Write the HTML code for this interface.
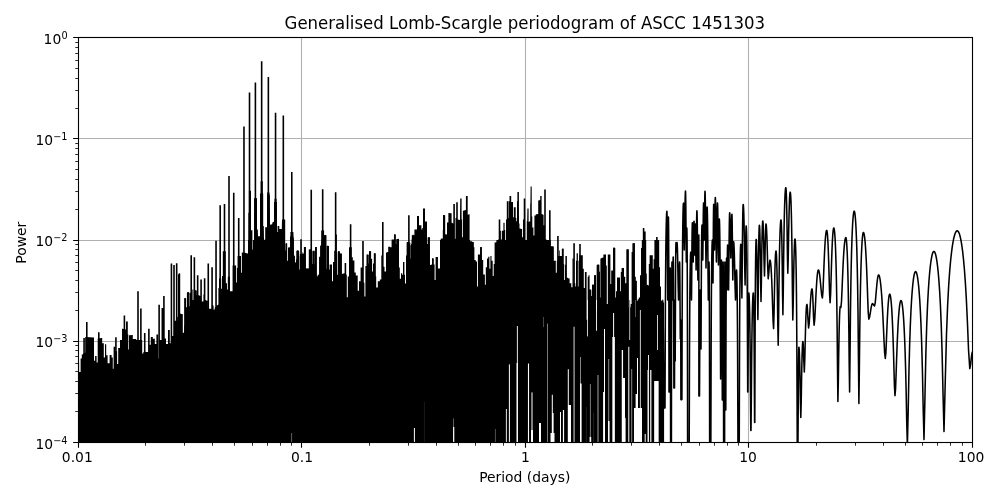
<!DOCTYPE html>
<html lang="en"><head><meta charset="utf-8"><title>Generalised Lomb-Scargle periodogram of ASCC 1451303</title>
<style>html,body{margin:0;padding:0;background:#fff;overflow:hidden}svg{display:block}</style></head>
<body>
<svg width="1000" height="500" viewBox="0 0 1000 500" style="display:block">
<rect width="1000" height="500" fill="#fff"/>
<defs><clipPath id="ax"><rect x="78.3" y="37.8" width="894.3" height="404.7"/></clipPath></defs>
<path d="M301.5 37.33V441.72M525.5 37.33V441.72M748.5 37.33V441.72M77.77 138.5H971.81M77.77 240.5H971.81M77.77 341.5H971.81" stroke="#b0b0b0" stroke-width="1.111" fill="none"/>
<g clip-path="url(#ax)">
<path d="M78.3,362.4 79.1,362.4 79.1,372.0 79.9,372.0 80.6,372.0 80.6,358.4 81.2,358.4 81.8,358.4 81.8,354.4 82.5,354.4 83.6,353.6 84.7,352.8 85.2,352.8 85.2,337.1 85.7,337.1 93.7,337.6 94.0,337.6 94.0,360.8 94.3,360.8 95.1,360.8 95.1,356.0 95.9,356.0 96.6,356.0 96.6,362.4 97.2,362.4 97.7,362.4 97.7,338.4 98.2,338.4 101.2,337.9 102.2,337.9 102.2,343.2 103.3,343.2 103.8,343.2 103.8,357.6 104.4,357.6 105.0,357.6 105.0,344.3 105.5,344.3 106.2,344.3 106.2,355.2 106.8,355.2 107.6,355.2 107.6,363.2 108.4,363.2 109.6,363.2 109.6,354.9 110.8,354.9 111.6,354.9 111.6,357.6 112.4,357.6 112.8,357.6 112.8,368.8 113.2,368.8 113.6,368.8 113.6,346.7 114.0,346.7 115.4,346.7 115.4,351.2 116.7,351.2 117.1,351.2 117.1,364.0 117.5,364.0 118.2,364.0 118.2,348.0 118.8,348.0 120.0,348.0 120.0,340.0 121.2,340.0 122.0,340.0 122.0,328.8 122.8,328.8 125.7,329.6 126.0,329.6 126.0,321.6 126.3,321.6 127.6,321.6 127.8,321.6 127.8,334.4 128.1,334.4 128.3,334.4 128.3,349.6 128.6,349.6 129.0,349.6 129.0,335.2 129.5,335.2 132.4,334.9 132.8,334.9 132.8,338.9 133.2,338.9 136.2,338.9 136.2,340.0 139.1,340.0 141.7,340.0 142.2,340.0 142.2,353.6 142.8,353.6 143.4,353.6 143.4,352.0 143.9,352.0 147.6,352.0 148.8,352.0 148.8,344.8 150.0,344.8 150.8,344.8 150.8,337.1 151.6,337.1 152.8,337.1 152.8,338.7 154.0,338.7 154.8,338.7 154.8,344.0 155.6,344.0 156.4,344.0 156.4,334.4 157.2,334.4 158.0,334.4 158.2,334.4 158.2,358.4 158.5,358.4 159.0,358.4 159.0,340.0 159.6,340.0 162.4,340.0 162.4,338.4 165.2,338.4 166.0,338.4 166.0,344.0 166.8,344.0 168.0,344.0 168.0,329.9 169.2,329.9 169.8,329.9 169.8,343.2 170.3,343.2 171.4,343.2 171.4,336.0 172.4,336.0 174.0,336.0 174.0,320.8 175.6,320.8 177.2,320.8 177.2,316.8 178.8,316.8 179.6,316.8 179.6,336.8 180.4,336.8 181.0,336.8 181.0,314.1 181.7,314.1 182.6,314.1 182.6,332.8 183.6,332.8 184.2,332.8 184.2,325.6 184.9,325.6 186.5,326.4 187.8,326.4 187.8,306.4 189.2,306.4 190.4,306.4 190.4,300.0 191.6,300.0 191.6,443 78.3,443Z" fill="#000"/>
<path d="M170.0,443.0 177.7,443.0 178.0,443.0 178.0,274.4 178.3,274.4 179.3,273.6 179.8,273.6 179.8,313.6 180.2,313.6 182.2,314.4 182.5,314.4 182.5,443.0 182.8,443.0 184.1,443.0 184.4,443.0 184.4,298.4 184.7,298.4 185.7,298.4 186.1,298.4 186.1,307.2 186.5,307.2 186.9,307.2 186.9,292.8 187.3,292.8 188.4,292.0 188.6,292.0 188.6,306.4 188.9,306.4 189.4,306.4 189.4,292.8 190.0,292.8 191.0,292.8 191.0,289.6 191.9,289.6 192.6,289.6 192.6,300.0 193.2,300.0 193.7,300.0 193.7,289.6 194.2,289.6 196.4,290.4 196.8,290.4 196.8,295.2 197.2,295.2 199.1,295.2 200.1,296.0 201.0,296.0 201.0,301.6 202.0,301.6 203.1,301.6 203.5,301.6 203.5,294.4 203.9,294.4 204.8,294.4 204.8,300.0 205.7,300.0 206.8,300.8 207.9,300.8 207.9,308.8 209.0,308.8 210.8,308.8 211.8,308.8 211.8,305.6 212.9,305.6 213.6,305.6 213.6,309.6 214.3,309.6 214.8,309.6 214.8,307.2 215.3,307.2 216.2,307.2 216.2,305.6 217.0,305.6 218.0,304.8 218.4,304.8 218.4,288.0 218.8,288.0 219.0,288.0 219.0,278.4 219.3,278.4 220.9,278.4 221.2,278.4 221.2,288.8 221.5,288.8 222.0,288.8 222.0,276.0 222.5,276.0 222.8,276.0 222.8,251.2 223.1,251.2 225.2,251.2 225.8,251.2 225.8,283.2 226.3,283.2 227.0,283.2 227.0,289.6 227.6,289.6 227.8,289.6 227.8,276.8 228.1,276.8 229.5,276.8 230.0,276.8 230.0,291.2 230.5,291.2 232.4,291.2 232.6,291.2 232.6,265.6 232.9,265.6 235.6,265.6 236.1,265.6 236.1,282.4 236.6,282.4 236.9,282.4 236.9,268.0 237.2,268.0 237.6,268.0 237.6,256.0 238.0,256.0 240.7,256.0 241.0,256.0 241.0,272.8 241.4,272.8 241.8,272.8 241.8,252.5 242.3,252.5 245.2,252.8 247.6,253.6 248.0,253.6 248.0,240.0 248.4,240.0 251.6,240.0 252.1,240.0 252.1,249.6 252.6,249.6 253.0,249.6 253.0,240.0 253.5,240.0 259.4,240.0 259.4,242.4 265.2,242.4 271.6,242.4 272.0,242.4 272.0,249.6 272.4,249.6 272.8,249.6 272.8,242.4 273.2,242.4 278.8,242.4 279.0,242.4 279.0,259.2 279.3,259.2 279.8,259.2 279.8,240.0 280.4,240.0 284.4,240.0 284.8,240.0 284.8,250.4 285.2,250.4 285.8,250.4 285.8,243.2 286.3,243.2 287.0,243.2 287.0,260.8 287.6,260.8 288.0,260.8 288.0,248.0 288.4,248.0 290.0,247.2 290.6,247.2 290.6,240.0 291.3,240.0 293.2,240.0 293.7,240.0 293.7,256.0 294.2,256.0 294.9,256.0 294.9,262.4 295.6,262.4 296.0,262.4 296.0,259.2 296.4,259.2 297.0,259.2 297.0,250.4 297.7,250.4 298.2,250.4 298.2,256.0 298.8,256.0 299.2,256.0 299.2,269.6 299.6,269.6 300.0,269.6 300.0,254.4 300.4,254.4 302.0,254.4 303.6,253.6 304.2,253.6 304.2,247.2 304.9,247.2 305.4,247.2 305.4,268.8 306.0,268.8 308.4,268.8 308.8,268.8 308.8,249.6 309.2,249.6 310.5,249.6 311.3,249.6 311.3,264.0 312.1,264.0 312.6,264.0 312.6,251.2 313.2,251.2 314.3,251.2 314.6,251.2 314.6,264.8 314.8,264.8 315.3,264.8 315.3,247.2 315.8,247.2 316.3,247.2 316.3,276.8 316.9,276.8 317.8,276.8 317.8,275.2 318.8,275.2 319.2,275.2 319.2,256.8 319.6,256.8 320.2,256.8 320.2,245.6 320.7,245.6 321.4,245.6 321.4,240.0 322.0,240.0 323.6,240.0 324.1,240.0 324.1,279.2 324.6,279.2 325.0,279.2 325.0,240.0 325.5,240.0 326.0,240.0 326.0,268.8 326.5,268.8 327.1,268.8 327.1,246.4 327.8,246.4 328.5,246.4 328.5,269.6 329.2,269.6 330.0,269.6 330.0,443 170.0,443Z" fill="#000"/>
<path d="M290.0,236.4 292.9,236.4 293.2,236.4 293.2,255.6 293.5,255.6 294.6,255.6 294.6,262.8 295.6,262.8 296.3,262.8 296.3,250.8 297.0,250.8 298.8,251.6 299.2,251.6 299.2,270.0 299.6,270.0 299.9,270.0 299.9,254.0 300.2,254.0 302.0,254.0 302.4,254.0 302.4,252.4 302.8,252.4 303.2,252.4 303.2,255.6 303.6,255.6 303.9,255.6 303.9,247.1 304.2,247.1 305.5,247.1 305.8,247.1 305.8,268.4 306.0,268.4 309.2,268.4 309.6,268.4 309.6,249.2 310.0,249.2 311.9,249.2 311.9,264.4 312.6,264.4 312.6,250.8 313.4,250.8 314.5,250.8 314.6,250.8 314.6,264.4 314.8,264.4 315.0,264.4 315.0,247.1 315.3,247.1 316.4,247.1 316.6,247.1 316.6,276.4 316.9,276.4 317.8,276.4 317.8,274.8 318.8,274.8 319.2,274.8 319.2,257.2 319.6,257.2 320.4,257.2 320.4,246.0 321.2,246.0 323.9,246.0 324.2,246.0 324.2,279.6 324.4,279.6 324.6,279.6 324.6,235.3 324.7,235.3 325.8,235.3 326.2,235.3 326.2,269.2 326.5,269.2 326.9,269.2 326.9,246.0 327.3,246.0 328.6,246.0 328.9,246.0 328.9,270.0 329.2,270.0 329.6,270.0 329.6,264.4 330.0,264.4 331.6,264.4 332.0,264.4 332.0,281.2 332.4,281.2 333.0,281.2 333.0,262.0 333.5,262.0 334.2,262.0 334.2,250.8 334.8,250.8 335.8,250.8 335.8,252.4 336.7,252.4 337.1,252.4 337.1,274.8 337.5,274.8 337.8,274.8 337.8,251.6 338.2,251.6 339.6,251.6 339.9,251.6 339.9,253.7 340.2,253.7 341.5,253.7 341.8,253.7 341.8,274.0 342.0,274.0 344.4,273.2 344.6,273.2 344.6,263.1 344.7,263.1 346.0,263.1 346.2,263.1 346.2,274.8 346.3,274.8 346.8,274.8 346.8,297.2 347.3,297.2 347.8,297.2 347.8,276.4 348.4,276.4 349.0,276.4 349.0,247.6 349.5,247.6 350.6,247.6 350.6,257.2 351.6,257.2 352.8,257.2 352.8,260.4 354.0,260.4 354.4,260.4 354.4,272.4 354.8,272.4 355.8,272.4 355.8,275.6 356.9,275.6 357.7,275.6 357.7,290.8 358.5,290.8 359.0,290.8 359.0,281.2 359.6,281.2 360.6,281.2 360.6,267.6 361.7,267.6 362.3,267.6 363.1,267.6 363.1,282.8 363.9,282.8 364.4,282.8 364.4,296.4 364.9,296.4 365.4,296.4 365.4,266.0 366.0,266.0 366.6,266.0 366.6,254.8 367.1,254.8 368.4,254.8 368.6,254.8 368.6,263.6 368.7,263.6 369.0,263.6 369.0,251.3 369.4,251.3 370.6,251.3 371.1,251.3 371.1,258.8 371.6,258.8 372.1,258.8 372.1,271.6 372.6,271.6 373.0,271.6 373.0,263.6 373.5,263.6 373.8,263.6 373.8,253.2 374.2,253.2 375.4,253.2 375.6,253.2 375.6,276.4 375.8,276.4 376.2,276.4 376.2,287.6 376.7,287.6 377.8,287.6 377.8,281.2 378.8,281.2 379.8,281.2 379.8,279.6 380.9,279.6 381.3,279.6 381.3,255.6 381.7,255.6 382.7,255.6 382.7,266.8 383.8,266.8 384.5,266.8 384.5,271.6 385.2,271.6 386.0,271.6 386.0,252.4 386.8,252.4 388.2,252.4 388.2,246.8 389.5,246.8 390.2,246.8 390.2,250.8 390.8,250.8 391.6,250.8 391.6,239.6 392.4,239.6 393.7,239.6 394.2,239.6 394.2,234.3 394.8,234.3 395.4,234.3 395.4,249.2 395.9,249.2 396.4,249.2 396.4,239.6 396.9,239.6 398.0,238.8 398.6,238.8 398.6,267.6 399.1,267.6 399.8,267.6 399.8,278.8 400.4,278.8 401.0,278.8 401.0,273.2 401.7,273.2 402.2,273.2 402.2,274.8 402.8,274.8 403.0,274.8 403.0,262.0 403.3,262.0 404.2,262.0 404.4,262.0 404.4,274.8 404.6,274.8 405.0,274.8 405.0,283.6 405.5,283.6 406.0,283.6 406.0,255.6 406.5,255.6 407.0,255.6 407.0,242.0 407.6,242.0 408.8,242.0 408.8,245.2 410.0,245.2 410.6,245.2 410.6,258.8 411.3,258.8 411.6,258.8 411.6,239.6 411.9,239.6 412.6,239.6 412.6,234.8 413.2,234.8 413.8,234.8 413.8,240.4 414.5,240.4 415.0,240.4 415.0,230.0 415.6,230.0 420.4,230.0 420.8,230.0 420.8,246.0 421.2,246.0 421.7,246.0 421.7,230.0 422.2,230.0 426.0,230.0 426.4,230.0 426.4,271.6 426.8,271.6 427.2,271.6 427.2,246.0 427.6,246.0 427.9,246.0 427.9,237.2 428.2,237.2 429.5,237.2 429.8,237.2 429.8,265.2 430.0,265.2 431.6,264.4 432.2,264.4 432.2,258.3 432.9,258.3 433.4,258.3 433.4,264.4 434.0,264.4 434.6,264.4 434.6,279.9 435.3,279.9 435.6,279.9 435.6,256.9 435.9,256.9 437.5,256.9 437.8,256.9 437.8,268.4 438.0,268.4 439.6,268.4 440.0,268.4 440.0,262.0 440.4,262.0 441.0,262.0 441.0,238.8 441.7,238.8 442.8,238.8 442.8,230.0 443.9,230.0 445.0,230.0 445.0,245.2 446.0,245.2 447.6,244.4 448.0,244.4 448.0,234.8 448.4,234.8 449.2,234.8 449.2,230.0 450.0,230.0 450.0,443 290.0,443Z" fill="#000"/>
<path d="M290.0,237.6 293.2,237.6 293.5,237.6 293.5,443.0 293.8,443.0 321.2,443.0 321.4,443.0 321.4,230.4 321.7,230.4 323.9,230.4 324.1,230.4 324.1,235.2 324.2,235.2 326.0,235.2 326.2,235.2 326.2,443.0 326.5,443.0 334.8,443.0 335.0,443.0 335.0,234.4 335.1,234.4 336.7,234.4 336.9,234.4 336.9,443.0 337.0,443.0 349.2,443.0 349.4,443.0 349.4,247.2 349.5,247.2 351.6,247.2 351.8,247.2 351.8,443.0 352.1,443.0 386.8,443.0 387.2,443.0 387.2,252.0 387.6,252.0 389.2,252.0 389.6,252.0 389.6,247.2 390.0,247.2 391.6,247.2 392.0,247.2 392.0,240.0 392.4,240.0 394.0,240.0 394.2,240.0 394.2,234.4 394.3,234.4 395.6,234.4 395.8,234.4 395.8,244.0 396.1,244.0 396.5,244.0 396.5,238.9 396.9,238.9 398.8,238.9 399.0,238.9 399.0,443.0 399.3,443.0 406.3,443.0 406.6,443.0 406.6,242.4 406.8,242.4 410.0,242.4 410.3,242.4 410.3,443.0 410.6,443.0 411.0,443.0 411.0,244.0 411.3,244.0 411.8,244.0 411.8,235.2 412.4,235.2 414.0,235.2 414.4,235.2 414.4,229.6 414.8,229.6 416.7,229.6 417.0,229.6 417.0,216.0 417.2,216.0 418.8,216.0 419.0,216.0 419.0,225.3 419.3,225.3 421.2,225.3 421.4,225.3 421.4,229.6 421.5,229.6 422.2,229.6 422.2,228.0 422.8,228.0 423.0,228.0 423.0,208.5 423.3,208.5 424.9,208.5 425.0,208.5 425.0,221.6 425.2,221.6 426.8,221.6 427.0,221.6 427.0,244.0 427.3,244.0 427.7,244.0 427.7,237.6 428.1,237.6 429.7,237.6 429.9,237.6 429.9,443.0 430.2,443.0 440.4,443.0 440.8,443.0 440.8,239.2 441.2,239.2 442.8,239.2 443.0,239.2 443.0,215.2 443.3,215.2 444.9,215.2 445.2,215.2 445.2,234.4 445.5,234.4 446.8,234.4 447.0,234.4 447.0,222.4 447.3,222.4 448.4,222.4 448.6,222.4 448.6,213.1 448.7,213.1 450.0,213.1 450.0,443 290.0,443Z" fill="#000"/>
<path d="M440.8,238.8 442.9,238.8 443.0,238.8 443.0,215.1 443.2,215.1 444.5,215.1 444.6,215.1 444.6,234.0 444.8,234.0 445.6,234.0 445.6,235.6 446.4,235.6 446.8,235.6 446.8,245.2 447.2,245.2 447.6,245.2 447.6,222.8 448.0,222.8 448.6,222.8 448.6,213.2 449.1,213.2 451.2,213.2 451.6,213.2 451.6,222.8 452.0,222.8 453.1,223.6 453.3,223.6 453.3,204.1 453.4,204.1 454.7,204.1 454.9,204.1 454.9,238.8 455.0,238.8 455.5,238.8 455.5,218.0 456.0,218.0 456.2,218.0 456.2,202.3 456.3,202.3 457.6,202.3 457.8,202.3 457.8,219.6 457.9,219.6 460.0,219.9 460.2,198.5 461.4,198.5 461.6,198.5 461.6,219.6 461.8,219.6 462.1,219.6 462.1,237.2 462.4,237.2 462.9,237.2 462.9,210.8 463.4,210.8 465.6,210.0 465.9,210.0 465.9,196.1 466.2,196.1 467.5,196.1 467.7,196.1 467.7,214.8 467.8,214.8 469.3,214.3 469.6,214.3 469.6,241.2 469.9,241.2 472.0,241.2 472.3,242.0 473.3,242.0 473.6,242.0 473.6,443.0 473.9,443.0 495.2,443.0 495.4,443.0 495.4,242.8 495.7,242.8 497.6,242.0 498.1,242.0 498.1,239.6 498.6,239.6 498.7,239.6 498.7,219.6 498.9,219.6 500.2,219.6 500.3,219.6 500.3,230.8 500.5,230.8 500.9,230.8 500.9,239.6 501.3,239.6 501.8,239.6 501.8,230.8 502.4,230.8 503.2,230.8 503.4,230.8 503.4,222.8 503.5,222.8 504.5,222.8 504.6,222.8 504.6,230.0 504.8,230.0 505.2,230.0 505.2,245.2 505.6,245.2 506.0,245.2 506.0,219.6 506.4,219.6 506.8,219.6 506.8,201.2 507.2,201.2 508.5,201.2 508.6,201.2 508.6,218.0 508.8,218.0 509.0,218.0 509.0,201.2 509.3,201.2 509.5,201.2 509.5,196.1 509.8,196.1 511.0,196.1 511.2,196.1 511.2,202.0 511.4,202.0 512.6,202.0 513.0,202.0 513.0,217.2 513.3,217.2 513.8,217.2 513.8,207.3 514.2,207.3 515.5,207.3 515.7,207.3 515.7,218.0 515.8,218.0 516.3,218.0 516.3,221.2 516.8,221.2 517.0,221.2 517.0,201.2 517.1,201.2 517.4,201.2 517.4,191.9 517.6,191.9 518.9,191.9 519.0,223.6 519.5,223.6 519.5,228.4 520.0,228.4 521.6,228.9 522.1,228.9 522.1,237.2 522.6,237.2 523.0,237.2 523.0,219.6 523.5,219.6 523.7,219.6 523.7,198.5 523.8,198.5 525.1,198.5 525.3,198.5 525.3,240.4 525.4,240.4 525.9,240.4 525.9,242.8 526.4,242.8 526.8,242.8 526.8,221.2 527.2,221.2 527.4,208.4 528.5,208.4 528.6,208.4 528.6,222.0 528.8,222.0 529.9,221.2 530.2,221.2 530.2,203.6 530.4,203.6 530.6,186.5 531.7,186.5 531.8,216.4 532.3,216.4 532.3,227.6 532.8,227.6 533.4,227.6 533.4,235.6 534.1,235.6 534.4,235.6 534.4,215.6 534.7,215.6 535.8,215.6 535.8,214.3 536.8,214.3 537.9,214.0 538.2,214.0 538.2,200.4 538.6,200.4 540.0,200.1 540.2,200.1 540.2,196.1 540.3,196.1 541.4,196.1 541.6,196.1 541.6,214.0 541.8,214.0 543.2,214.8 543.6,214.8 543.6,225.2 544.0,225.2 544.2,225.2 544.2,189.5 544.3,189.5 545.6,189.5 545.8,189.5 545.8,239.6 545.9,239.6 548.8,240.4 549.0,240.4 549.0,210.3 549.3,210.3 550.6,210.3 550.7,246.0 552.8,246.5 553.2,246.5 553.2,443.0 553.6,443.0 553.6,443 440.8,443Z" fill="#000"/>
<path d="M440.0,240.0 469.9,240.0 470.2,240.0 470.2,257.6 470.4,257.6 470.8,257.6 470.8,269.6 471.2,269.6 471.6,269.6 471.6,246.4 472.0,246.4 472.2,246.4 472.2,241.9 472.3,241.9 473.3,241.9 473.6,241.9 473.6,247.2 473.9,247.2 474.4,247.2 474.4,260.0 474.9,260.0 475.7,260.0 475.7,261.6 476.5,261.6 477.0,261.6 477.0,286.4 477.4,286.4 477.9,286.4 477.9,254.4 478.4,254.4 480.0,254.4 480.2,254.4 480.2,247.2 480.5,247.2 481.6,247.2 481.8,247.2 481.8,260.0 481.9,260.0 482.9,260.0 483.2,260.0 483.2,274.4 483.5,274.4 484.5,274.4 484.9,274.4 484.9,284.8 485.3,284.8 485.8,284.8 485.8,267.2 486.4,267.2 487.0,267.2 487.0,258.4 487.7,258.4 488.2,258.4 488.2,256.8 488.8,256.8 489.4,256.8 489.4,268.8 489.9,268.8 490.4,268.8 490.4,256.0 490.9,256.0 491.5,256.0 491.5,260.8 492.2,260.8 492.7,260.8 492.7,276.0 493.3,276.0 493.7,276.0 493.7,264.0 494.1,264.0 494.6,264.0 494.6,242.4 495.2,242.4 496.4,242.4 496.4,240.0 497.6,240.0 550.4,240.0 550.8,240.0 550.8,279.2 551.2,279.2 551.6,279.2 551.6,263.2 552.0,263.2 552.2,263.2 552.2,246.4 552.5,246.4 553.6,246.4 553.8,246.4 553.8,260.8 553.9,260.8 555.2,260.8 555.8,260.8 555.8,272.8 556.5,272.8 556.8,272.8 556.8,260.8 557.1,260.8 558.0,260.8 558.0,256.0 558.9,256.0 559.2,256.0 559.2,250.4 559.5,250.4 559.9,250.4 559.9,256.0 560.3,256.0 561.6,256.0 561.9,256.0 561.9,248.8 562.2,248.8 563.4,248.8 563.5,248.8 563.5,264.0 563.7,264.0 564.1,264.0 564.1,280.0 564.5,280.0 564.9,280.0 564.9,264.8 565.3,264.8 565.4,264.8 565.4,256.0 565.6,256.0 566.7,256.0 566.9,256.0 566.9,277.6 567.0,277.6 568.8,278.4 569.6,278.4 569.6,283.2 570.4,283.2 571.3,283.2 571.3,287.2 572.2,287.2 572.5,287.2 572.5,258.4 572.8,258.4 573.8,258.4 573.8,283.2 574.9,283.2 575.3,283.2 575.3,286.4 575.7,286.4 576.0,286.4 576.0,260.8 576.3,260.8 576.6,260.8 576.6,253.3 576.8,253.3 577.8,253.3 577.9,253.3 577.9,286.4 578.1,286.4 578.5,286.4 578.5,260.8 578.9,260.8 579.2,260.8 579.2,255.2 579.5,255.2 582.4,255.2 582.8,255.2 582.8,268.8 583.2,268.8 583.8,268.8 583.8,288.0 584.5,288.0 584.9,288.0 584.9,272.0 585.3,272.0 586.4,272.0 586.6,272.0 586.6,319.8 586.7,319.8 587.5,319.8 587.7,319.8 587.7,276.8 587.8,276.8 588.5,276.8 588.5,275.2 589.1,275.2 589.6,275.2 589.6,289.6 590.1,289.6 590.7,290.4 591.2,290.4 591.2,296.8 591.7,296.8 592.1,296.8 592.1,284.8 592.5,284.8 593.9,284.8 594.2,284.8 594.2,275.2 594.6,275.2 595.7,275.2 595.8,275.2 595.8,319.8 596.0,319.8 596.6,319.8 596.8,319.8 596.8,265.6 597.0,265.6 597.6,265.6 597.6,264.5 598.2,264.5 598.7,264.5 598.7,272.0 599.2,272.0 600.0,271.2 600.0,443 440.0,443Z" fill="#000"/>
<path d="M248.2,443.0 248.4,212.8 250.8,212.8 251.0,212.8 251.0,230.2 251.2,230.2 252.2,230.2 252.4,230.2 252.4,443.0 252.6,443.0 253.9,443.0 254.2,198.4 256.8,198.4 257.0,198.4 257.0,229.6 257.2,229.6 257.8,229.6 258.0,236.2 259.8,236.2 260.0,236.2 260.0,193.6 260.2,193.6 263.0,193.6 263.2,193.6 263.2,226.0 263.4,226.0 263.8,226.0 264.0,239.8 265.0,239.8 265.2,239.8 265.2,227.2 265.4,227.2 267.1,227.2 267.4,194.8 269.8,194.8 270.0,224.8 272.2,224.2 272.4,222.4 273.8,221.8 274.0,221.8 274.0,202.0 274.2,202.0 276.8,202.0 277.0,202.0 277.0,232.0 277.2,232.0 277.6,232.0 277.6,226.0 277.9,226.0 279.0,226.0 279.3,226.0 279.3,229.0 279.6,229.0 281.8,229.0 282.0,219.4 285.0,219.4 285.2,219.4 285.2,443.0 285.4,443.0 285.6,443.0 285.6,243.4 285.8,243.4 287.0,243.4 287.2,243.4 287.2,443.0 287.4,443.0 288.0,443.0 288.0,247.6 288.6,247.6 289.8,247.6 290.0,247.6 290.0,238.0 290.2,238.0 290.4,238.0 290.4,232.0 290.6,232.0 293.4,232.0 293.6,238.0 293.8,238.0 293.8,443.0 294.0,443.0 294.0,443 248.2,443Z" fill="#000"/>
<path d="M321.4,443.0 321.4,245.2 321.6,230.8 323.8,230.8 324.0,443.0 324.4,443.0 324.4,235.2 324.8,235.2 326.0,235.2 326.2,235.2 326.2,443.0 326.4,443.0 326.7,443.0 326.7,245.8 327.0,245.8 328.2,245.8 328.4,245.8 328.4,443.0 328.6,443.0 328.6,443 321.4,443Z" fill="#000"/>
<path d="M248.9,443.0 248.9,190.8 251.0,190.8 251.0,443.0 254.3,443.0 254.3,198.0 256.7,198.0 256.7,443.0 260.6,443.0 260.6,181.2 262.8,181.2 262.8,443.0 267.1,443.0 267.1,192.4 269.5,192.4 269.5,443.0 274.5,443.0 274.5,198.8 276.6,198.8 276.6,443.0 276.6,443 248.9,443Z" fill="#000"/>
<path d="M590.0,289.6 590.8,289.6 591.2,289.6 591.2,296.0 591.6,296.0 592.0,296.0 592.0,284.8 592.4,284.8 594.0,284.8 594.2,284.8 594.2,275.2 594.5,275.2 595.6,275.2 596.0,275.2 596.0,310.4 596.4,310.4 596.8,310.4 596.8,264.8 597.2,264.8 598.8,264.8 599.4,264.8 599.4,297.6 599.9,297.6 600.4,297.6 600.4,258.4 600.9,258.4 602.8,257.6 603.4,257.6 603.4,254.4 604.1,254.4 605.7,254.4 606.0,254.4 606.0,265.6 606.3,265.6 606.8,265.6 606.8,304.0 607.3,304.0 607.8,304.0 607.8,254.4 608.4,254.4 610.0,254.4 610.4,254.4 610.4,284.0 610.8,284.0 611.2,284.0 611.2,270.4 611.6,270.4 612.9,270.4 613.1,270.4 613.1,248.0 613.4,248.0 615.0,248.0 615.3,248.0 615.3,297.6 615.6,297.6 616.0,297.6 616.0,291.2 616.4,291.2 617.0,291.2 617.0,277.6 617.5,277.6 619.6,277.6 620.0,277.6 620.0,291.2 620.4,291.2 620.8,291.2 620.8,272.0 621.2,272.0 621.6,272.0 621.6,268.0 622.0,268.0 623.6,268.0 624.0,268.0 624.0,276.8 624.4,276.8 625.2,276.8 625.2,283.2 626.0,283.2 626.4,283.2 626.4,249.6 626.8,249.6 628.4,249.6 628.8,249.6 628.8,307.2 629.2,307.2 630.0,307.2 630.6,307.2 630.6,304.0 631.3,304.0 631.6,304.0 631.6,252.0 631.9,252.0 632.4,252.0 632.4,243.2 632.9,243.2 634.5,243.2 634.8,243.2 634.8,276.8 635.1,276.8 635.8,276.8 635.8,280.8 636.4,280.8 636.9,280.8 636.9,300.8 637.4,300.8 637.7,300.8 637.7,299.2 638.0,299.2 638.8,299.2 638.8,297.6 639.6,297.6 640.0,297.6 640.0,275.2 640.4,275.2 641.0,275.2 641.0,248.0 641.5,248.0 641.8,248.0 641.8,240.0 642.0,240.0 646.0,240.0 646.2,240.0 646.2,273.6 646.3,273.6 646.8,273.6 646.8,284.8 647.3,284.8 648.4,285.6 648.8,285.6 648.8,264.0 649.2,264.0 649.6,264.0 649.6,255.2 650.0,255.2 652.4,255.2 652.8,255.2 652.8,268.8 653.2,268.8 653.6,268.8 653.6,259.2 654.0,259.2 654.4,259.2 654.4,240.0 654.8,240.0 658.8,240.0 659.2,240.0 659.2,267.2 659.6,267.2 660.0,267.2 660.0,286.4 660.4,286.4 661.0,286.4 661.0,300.8 661.7,300.8 662.2,300.8 662.2,302.4 662.8,302.4 663.9,302.4 664.1,302.4 664.1,443.0 664.2,443.0 664.2,443 590.0,443Z" fill="#000"/>
<path d="M655.3,443.0 655.4,443.0 655.4,243.3 655.6,243.3 658.5,243.3 658.6,243.3 658.6,443.0 658.8,443.0 658.8,443 655.3,443Z" fill="#000"/>
<path d="M84.08 337.9V443.0M86.80 322.1V443.0M98.80 332.3V443.0M115.92 337.3V443.0M124.40 315.5V443.0M138.00 291.2V443.0M140.88 308.5V443.0M144.72 333.1V443.0M148.88 328.8V443.0M159.12 304.8V443.0M162.32 308.0V443.0M163.92 296.0V443.0M171.43 263.5V443.0M174.02 265.0V443.0M176.68 263.2V443.0M179.42 273.6V443.0M185.13 298.0V443.0M188.12 292.0V443.0M191.20 255.2V443.0M194.38 257.3V443.0M197.67 275.2V443.0M201.08 279.4V443.0M204.61 278.2V443.0M208.27 263.6V443.0M212.08 267.2V443.0M216.04 240.8V443.0M220.17 205.3V443.0M224.49 204.0V443.0M229.00 175.9V443.0M233.74 192.7V443.0M238.72 217.9V443.0M243.97 126.5V443.0M249.51 92.4V443.0M255.40 82.5V443.0M261.66 61.2V443.0M268.36 76.9V443.0M275.55 112.7V443.0M283.32 115.6V443.0M291.77 172.1V443.0M301.02 239.2V443.0M311.25 189.7V443.0M322.68 189.2V443.0M335.64 192.3V443.0M350.61 224.3V443.0M363.00 241.1V443.0M382.80 222.1V443.0M298.00 250.4V443.0M304.88 247.2V443.0M315.92 247.2V443.0M327.92 246.1V443.0M338.80 251.2V443.0M340.88 253.6V443.0M362.96 241.1V443.0M367.60 254.4V443.0M370.00 251.2V443.0M374.80 253.6V443.0M408.88 215.2V443.0M432.88 258.4V443.0M436.88 257.1V443.0M480.96 247.1V443.0M557.92 236.1V443.0M562.72 248.7V443.0M574.08 243.3V443.0M580.00 244.1V443.0M574.08 243.2V443.0M580.00 244.0V443.0M304.80 247.0V443.0M315.84 247.0V443.0M614.00 247.6V443.0M627.60 249.2V443.0M634.00 243.3V443.0M643.60 227.9V443.0M644.88 231.6V443.0M656.88 236.9V443.0" stroke="#000" stroke-width="1.6" fill="none" stroke-linecap="butt"/>
<path d="M495.40 429.0V443.0" stroke="#888" stroke-width="0.6" fill="none"/>
<path d="M506.40 409.0V443.0" stroke="#fff" stroke-width="0.9" fill="none"/>
<path d="M509.40 364.4V443.0" stroke="#fff" stroke-width="1.0" fill="none"/>
<path d="M517.40 326.0V443.0" stroke="#fff" stroke-width="0.9" fill="none"/>
<path d="M517.20 363.0V443.0" stroke="#fff" stroke-width="1.3" fill="none"/>
<path d="M528.50 363.6V443.0" stroke="#fff" stroke-width="1.1" fill="none"/>
<path d="M532.00 392.4V443.0" stroke="#fff" stroke-width="1.0" fill="none"/>
<path d="M532.00 430.0V443.0" stroke="#fff" stroke-width="2.0" fill="none"/>
<path d="M540.00 423.0V443.0" stroke="#fff" stroke-width="2.0" fill="none"/>
<path d="M543.50 317.0V327.0" stroke="#777" stroke-width="0.6" fill="none"/>
<path d="M547.50 323.6V443.0" stroke="#999" stroke-width="0.8" fill="none"/>
<path d="M552.30 394.8V443.0" stroke="#fff" stroke-width="1.0" fill="none"/>
<path d="M552.80 413.0V443.0" stroke="#fff" stroke-width="1.6" fill="none"/>
<path d="M552.50 433.0V443.0" stroke="#fff" stroke-width="4.0" fill="none"/>
<path d="M560.50 412.0V443.0" stroke="#fff" stroke-width="1.0" fill="none"/>
<path d="M563.50 410.0V443.0" stroke="#fff" stroke-width="1.2" fill="none"/>
<path d="M568.30 369.2V443.0" stroke="#fff" stroke-width="1.0" fill="none"/>
<path d="M569.50 405.0V443.0" stroke="#fff" stroke-width="3.0" fill="none"/>
<path d="M574.10 326.8V443.0" stroke="#888" stroke-width="1.6" fill="none"/>
<path d="M580.50 357.0V443.0" stroke="#aaa" stroke-width="0.8" fill="none"/>
<path d="M580.80 383.6V443.0" stroke="#fff" stroke-width="1.6" fill="none"/>
<path d="M587.50 300.0V336.4" stroke="#fff" stroke-width="0.8" fill="none"/>
<path d="M586.40 407.0V443.0" stroke="#333" stroke-width="0.6" fill="none"/>
<path d="M590.40 384.0V443.0" stroke="#999" stroke-width="0.8" fill="none"/>
<path d="M590.40 437.0V443.0" stroke="#fff" stroke-width="1.6" fill="none"/>
<path d="M596.50 300.0V330.8" stroke="#fff" stroke-width="0.9" fill="none"/>
<path d="M593.60 413.0V443.0" stroke="#333" stroke-width="0.6" fill="none"/>
<path d="M598.00 375.0V443.0" stroke="#888" stroke-width="1.2" fill="none"/>
<path d="M604.50 329.0V443.0" stroke="#fff" stroke-width="1.0" fill="none"/>
<path d="M604.00 392.0V443.0" stroke="#fff" stroke-width="1.8" fill="none"/>
<path d="M608.70 359.0V443.0" stroke="#999" stroke-width="0.9" fill="none"/>
<path d="M608.80 421.0V443.0" stroke="#fff" stroke-width="1.5" fill="none"/>
<path d="M613.60 313.0V443.0" stroke="#fff" stroke-width="1.0" fill="none"/>
<path d="M613.60 337.0V443.0" stroke="#fff" stroke-width="2.5" fill="none"/>
<path d="M622.40 350.0V443.0" stroke="#fff" stroke-width="1.3" fill="none"/>
<path d="M623.50 378.0V443.0" stroke="#fff" stroke-width="3.0" fill="none"/>
<path d="M624.60 418.0V443.0" stroke="#fff" stroke-width="2.0" fill="none"/>
<path d="M628.80 346.8V443.0" stroke="#fff" stroke-width="1.0" fill="none"/>
<path d="M629.60 300.0V340.0" stroke="#999" stroke-width="1.2" fill="none"/>
<path d="M631.70 369.0V443.0" stroke="#888" stroke-width="1.0" fill="none"/>
<path d="M635.50 300.0V317.0" stroke="#888" stroke-width="0.6" fill="none"/>
<path d="M636.80 394.0V443.0" stroke="#fff" stroke-width="2.4" fill="none"/>
<path d="M638.00 408.0V443.0" stroke="#fff" stroke-width="8" fill="none"/>
<path d="M637.50 358.0V443.0" stroke="#fff" stroke-width="1.0" fill="none"/>
<path d="M640.40 310.0V443.0" stroke="#fff" stroke-width="0.8" fill="none"/>
<path d="M645.20 434.0V443.0" stroke="#fff" stroke-width="1.0" fill="none"/>
<path d="M648.50 355.0V443.0" stroke="#fff" stroke-width="0.9" fill="none"/>
<path d="M647.90 370.0V443.0" stroke="#fff" stroke-width="0.8" fill="none"/>
<path d="M650.80 370.0V443.0" stroke="#fff" stroke-width="1.2" fill="none"/>
<path d="M656.40 381.0V443.0" stroke="#fff" stroke-width="4.5" fill="none"/>
<path d="M657.50 315.0V350.0" stroke="#fff" stroke-width="0.8" fill="none"/>
<path d="M291.60 433.0V443.0" stroke="#777" stroke-width="0.8" fill="none"/>
<path d="M414.40 428.0V443.0" stroke="#fff" stroke-width="1.0" fill="none"/>
<path d="M424.40 402.0V443.0" stroke="#2a2a2a" stroke-width="0.6" fill="none"/>
<path d="M453.50 418.4V443.0" stroke="#888" stroke-width="0.7" fill="none"/>
<path d="M453.70 427.0V443.0" stroke="#fff" stroke-width="1.2" fill="none"/>
<path d="M662.50,300.00 662.51,300.00 662.53,300.04 662.57,300.22 662.63,300.79 662.72,302.12 662.83,304.76 662.96,309.52 663.11,317.55 663.30,330.59 663.50,351.35 663.74,382.64 664.00,408.00 665.00,408.00 665.20,353.91 665.39,307.37 665.57,278.61 665.74,259.29 665.89,245.63 666.03,235.72 666.16,228.45 666.28,223.12 666.39,219.25 666.49,216.47 666.57,214.53 666.65,213.21 666.71,212.36 666.77,211.84 666.81,211.54 666.84,211.39 666.87,211.33 666.89,211.30 666.90,211.30 666.90,211.30 666.91,211.31 666.93,211.43 666.97,212.05 667.03,213.97 667.12,218.51 667.23,227.75 667.36,244.95 667.52,274.06 667.70,300.00 667.90,268.02 668.07,238.98 668.20,224.99 668.29,219.22 668.36,217.37 668.39,217.02 668.40,217.00 668.40,217.00 668.41,217.02 668.42,217.09 668.43,217.32 668.45,217.85 668.48,218.90 668.51,220.77 668.55,223.86 668.60,228.73 668.65,236.15 668.70,247.35 668.77,264.36 668.84,291.12 668.92,336.46 669.00,392.00 669.60,392.00 669.71,354.33 669.81,317.31 669.90,295.45 669.98,282.64 670.04,275.25 670.09,271.21 670.14,269.19 670.17,268.34 670.19,268.06 670.20,268.00 670.20,268.00 670.20,268.00 670.21,268.02 670.21,268.12 670.23,268.43 670.24,269.15 670.26,270.58 670.29,273.14 670.32,277.39 670.35,284.16 670.39,294.70 670.44,311.13 670.48,337.59 670.54,383.77 670.60,445.00 671.40,445.00 671.48,387.44 671.55,341.20 671.62,313.77 671.68,296.11 671.74,284.27 671.79,276.21 671.83,270.76 671.87,267.15 671.90,264.84 671.93,263.43 671.95,262.64 671.97,262.24 671.98,262.07 671.99,262.01 672.00,262.00 672.00,262.00 672.02,262.05 672.08,263.11 672.20,268.54 672.37,283.66 672.60,300.00 672.83,280.91 673.00,264.09 673.12,258.20 673.18,257.06 673.20,257.00 673.20,257.00 673.22,257.06 673.24,257.34 673.28,258.20 673.32,260.24 673.38,264.32 673.46,271.80 673.55,284.81 673.65,307.16 673.77,345.91 673.90,388.00 674.50,388.00 674.59,352.91 674.66,322.53 674.71,308.16 674.75,302.27 674.78,300.38 674.80,300.02 674.80,300.00 674.81,300.03 674.84,300.65 674.89,303.87 674.96,313.85 675.07,336.65 675.20,361.00 675.37,322.32 675.51,285.82 675.63,265.11 675.74,253.56 675.83,247.36 675.89,244.30 675.94,243.01 675.98,242.58 675.99,242.50 676.00,242.50 676.01,242.52 676.07,242.87 676.16,244.59 676.31,248.66 676.50,252.00 676.69,248.66 676.84,244.59 676.93,242.87 676.99,242.52 677.00,242.50 677.02,242.52 677.10,242.82 677.23,244.40 677.44,249.28 677.72,260.66 678.07,281.75 678.50,300.00 678.93,283.66 679.24,268.54 679.45,263.11 679.57,262.05 679.60,262.00 679.61,262.02 679.64,262.36 679.71,264.16 679.80,269.76 679.93,283.24 680.10,310.58 680.30,339.00 680.46,331.83 680.57,323.85 680.65,320.67 680.69,320.03 680.70,320.00 680.70,320.03 680.72,320.72 680.74,324.34 680.78,335.75 680.83,363.76 680.90,399.60 681.90,399.60 682.07,345.58 682.23,299.06 682.38,270.31 682.52,250.99 682.65,237.33 682.77,227.42 682.88,220.15 682.98,214.82 683.07,210.95 683.15,208.17 683.22,206.23 683.29,204.91 683.34,204.06 683.39,203.54 683.42,203.24 683.45,203.09 683.48,203.03 683.49,203.00 683.50,203.00 683.50,203.00 683.52,203.06 683.61,204.26 683.76,210.49 683.99,228.61 684.30,250.00 684.65,231.09 684.93,209.52 685.15,197.96 685.31,193.03 685.42,191.42 685.48,191.12 685.50,191.10 685.52,191.13 685.57,191.79 685.67,195.24 685.83,206.05 686.04,231.77 686.30,262.00 686.49,247.76 686.64,234.05 686.73,229.03 686.79,228.05 686.80,228.00 686.80,228.00 686.81,228.00 686.81,228.03 686.82,228.09 686.84,228.24 686.86,228.54 686.88,229.06 686.91,229.92 686.94,231.24 686.97,233.19 687.01,235.98 687.06,239.88 687.11,245.24 687.17,252.56 687.22,262.55 687.29,276.36 687.36,295.99 687.43,325.57 687.51,375.48 687.60,445.00 689.20,445.00 689.37,393.52 689.53,347.72 689.68,319.15 689.82,299.90 689.95,286.28 690.07,276.39 690.18,269.13 690.28,263.81 690.37,259.94 690.45,257.17 690.52,255.23 690.59,253.91 690.64,253.06 690.69,252.54 690.72,252.24 690.75,252.09 690.78,252.03 690.79,252.00 690.80,252.00 690.80,252.00 690.82,252.06 690.89,253.28 691.03,259.59 691.23,278.02 691.50,300.00 691.73,275.99 691.92,249.38 692.08,234.42 692.20,227.09 692.30,224.00 692.36,223.00 692.39,222.81 692.40,222.80 692.42,222.85 692.51,223.93 692.66,229.47 692.89,245.01 693.20,262.00 693.51,244.14 693.74,228.05 693.89,222.36 693.98,221.26 694.00,221.20 694.02,221.25 694.08,222.23 694.20,227.22 694.37,240.87 694.60,255.00 694.87,242.28 695.07,229.66 695.21,224.97 695.28,224.05 695.30,224.00 695.32,224.06 695.41,225.25 695.56,231.40 695.79,249.19 696.10,270.00 696.41,241.04 696.64,219.34 696.79,212.23 696.88,210.87 696.90,210.80 696.91,210.82 696.96,211.15 697.06,212.87 697.19,218.22 697.38,230.95 697.61,255.91 697.90,280.00 698.25,259.77 698.51,242.30 698.68,236.23 698.77,235.06 698.80,235.00 698.80,235.00 698.80,235.03 698.80,235.17 698.81,235.59 698.81,236.59 698.82,238.56 698.83,242.11 698.83,248.07 698.84,257.72 698.86,273.16 698.87,298.43 698.88,342.26 698.90,396.00 699.50,396.00 699.68,360.32 699.84,326.24 699.97,307.45 700.08,297.60 700.17,292.81 700.23,290.79 700.27,290.13 700.29,290.01 700.30,290.00 700.32,290.07 700.39,291.42 700.53,298.53 700.73,320.17 701.00,349.00 701.17,315.24 701.33,279.23 701.47,256.87 701.59,243.17 701.69,234.82 701.78,229.91 701.85,227.18 701.91,225.81 701.95,225.23 701.98,225.04 702.00,225.00 702.00,225.00 702.02,225.05 702.11,226.05 702.26,231.17 702.49,245.25 702.80,260.00 703.06,237.88 703.27,216.33 703.43,206.74 703.53,203.63 703.58,203.03 703.60,203.00 703.62,203.05 703.69,204.09 703.83,209.42 704.03,224.20 704.30,240.00 704.57,217.60 704.77,198.96 704.91,192.59 704.98,191.36 705.00,191.30 705.01,191.31 705.05,191.50 705.12,192.50 705.22,195.58 705.36,202.88 705.53,217.79 705.75,244.24 706.00,268.00 706.32,248.08 706.58,225.80 706.78,213.99 706.93,208.96 707.03,207.33 707.08,207.02 707.10,207.00 707.11,207.01 707.14,207.13 707.21,207.76 707.30,209.71 707.43,214.32 707.59,223.73 707.79,241.38 708.03,271.80 708.30,300.00 708.57,283.66 708.77,268.54 708.91,263.11 708.98,262.05 709.00,262.00 709.00,262.00 709.01,262.01 709.02,262.07 709.03,262.24 709.05,262.64 709.08,263.43 709.11,264.84 709.14,267.15 709.18,270.76 709.23,276.21 709.29,284.27 709.35,296.11 709.41,313.77 709.48,341.20 709.56,387.44 709.65,445.00 710.85,445.00 711.02,384.80 711.17,336.76 711.32,307.63 711.45,288.16 711.58,274.43 711.69,264.49 711.80,257.20 711.90,251.85 711.98,247.96 712.06,245.18 712.13,243.24 712.19,241.92 712.25,241.06 712.29,240.54 712.33,240.24 712.36,240.09 712.38,240.03 712.39,240.00 712.40,240.00 712.40,240.00 712.42,240.06 712.48,241.20 712.60,247.09 712.77,263.91 713.00,283.00 713.20,253.65 713.37,225.85 713.50,212.23 713.59,206.58 713.66,204.76 713.69,204.42 713.70,204.40 713.72,204.46 713.81,205.64 713.96,211.76 714.19,229.42 714.50,250.00 714.81,225.29 715.04,205.50 715.19,198.84 715.28,197.56 715.30,197.50 715.32,197.52 715.37,197.84 715.47,199.51 715.62,204.68 715.82,216.90 716.08,240.35 716.40,262.00 716.76,238.78 717.05,216.59 717.26,206.81 717.40,203.64 717.48,203.03 717.50,203.00 717.51,203.02 717.56,203.33 717.64,204.97 717.76,210.04 717.93,221.97 718.14,244.59 718.40,265.00 718.75,244.19 719.01,226.40 719.18,220.25 719.27,219.06 719.30,219.00 719.30,219.00 719.31,219.01 719.33,219.07 719.36,219.24 719.40,219.63 719.45,220.42 719.51,221.81 719.58,224.09 719.67,227.66 719.76,233.03 719.87,240.95 719.99,252.56 720.12,269.71 720.27,295.85 720.43,337.26 720.60,379.00 720.77,340.00 720.91,303.38 721.03,282.63 721.14,271.07 721.23,264.87 721.29,261.81 721.34,260.51 721.38,260.09 721.39,260.00 721.40,260.00 721.40,260.00 721.41,260.03 721.44,260.16 721.47,260.58 721.51,261.56 721.56,263.50 721.63,266.98 721.71,272.82 721.80,282.24 721.91,297.20 722.02,321.20 722.15,360.40 722.30,400.00 722.43,361.63 722.55,322.93 722.65,299.08 722.74,284.18 722.83,274.79 722.90,268.97 722.95,265.49 723.00,263.56 723.04,262.58 723.07,262.16 723.09,262.03 723.10,262.00 723.10,262.00 723.10,262.00 723.11,262.01 723.11,262.07 723.12,262.24 723.14,262.64 723.16,263.43 723.18,264.84 723.21,267.15 723.24,270.76 723.28,276.21 723.32,284.27 723.37,296.11 723.42,313.77 723.47,341.20 723.53,387.44 723.60,445.00 724.60,445.00 724.64,383.47 724.68,336.73 724.72,309.63 724.75,292.49 724.78,281.23 724.80,273.77 724.82,268.88 724.84,265.78 724.86,263.91 724.87,262.85 724.88,262.32 724.89,262.09 724.90,262.02 724.90,262.00 724.90,262.00 724.90,262.00 724.91,262.02 724.93,262.12 724.96,262.42 724.99,263.13 725.04,264.54 725.10,267.04 725.16,271.21 725.24,277.83 725.33,288.09 725.43,303.91 725.54,328.80 725.66,369.07 725.80,410.00 725.92,366.51 726.03,325.29 726.13,300.13 726.22,284.20 726.30,273.89 726.37,267.24 726.43,263.06 726.48,260.55 726.52,259.14 726.55,258.42 726.57,258.12 726.59,258.02 726.60,258.00 726.60,258.00 726.61,258.05 726.65,258.99 726.73,263.79 726.84,276.78 727.00,290.00 727.23,269.77 727.40,252.30 727.52,246.23 727.58,245.06 727.60,245.00 727.63,245.06 727.73,246.23 727.93,252.30 728.21,269.77 728.60,290.00 728.88,266.04 729.12,239.46 729.31,224.51 729.46,217.18 729.57,214.10 729.65,213.10 729.69,212.91 729.70,212.90 729.73,212.96 729.85,214.13 730.06,220.21 730.37,237.71 730.80,258.00 731.23,238.51 731.54,221.46 731.75,215.51 731.87,214.36 731.90,214.30 731.91,214.32 731.96,214.64 732.04,216.33 732.16,221.54 732.33,233.90 732.54,257.73 732.80,280.00 733.11,263.55 733.34,248.36 733.49,242.91 733.58,241.85 733.60,241.80 733.62,241.81 733.69,241.98 733.82,242.86 734.01,245.58 734.28,251.94 734.61,264.44 735.02,284.64 735.50,300.00 735.89,287.77 736.17,275.52 736.37,270.95 736.47,270.05 736.50,270.00 736.50,270.00 736.51,270.01 736.53,270.05 736.56,270.18 736.60,270.49 736.65,271.09 736.71,272.16 736.78,273.91 736.86,276.64 736.95,280.71 737.06,286.64 737.17,295.18 737.30,307.46 737.45,325.38 737.60,352.62 737.77,396.67 737.95,445.00 739.25,445.00 739.42,384.75 739.59,336.93 739.74,308.11 739.88,289.01 740.01,275.66 740.13,266.11 740.24,259.21 740.33,254.25 740.42,250.72 740.50,248.26 740.57,246.61 740.63,245.53 740.68,244.87 740.72,244.50 740.75,244.31 740.77,244.23 740.79,244.21 740.80,244.20 740.80,244.20 740.82,244.23 740.90,244.81 741.04,247.83 741.25,257.09 741.54,277.59 741.90,298.00 742.17,273.24 742.40,243.83 742.61,225.41 742.78,214.78 742.92,208.98 743.03,206.10 743.11,204.88 743.16,204.48 743.19,204.40 743.20,204.40 743.21,204.40 743.26,204.48 743.33,204.86 743.45,206.02 743.61,208.76 743.82,214.24 744.07,224.18 744.36,240.96 744.71,266.12 745.10,285.00 745.46,261.78 745.75,239.59 745.96,229.81 746.10,226.64 746.18,226.03 746.20,226.00 746.20,226.00 746.22,226.01 746.24,226.07 746.27,226.24 746.32,226.64 746.37,227.42 746.44,228.81 746.53,231.11 746.62,234.69 746.73,240.09 746.86,248.05 747.00,259.73 747.15,277.04 747.32,303.57 747.50,346.39 747.70,392.00 747.90,392.00 748.09,364.52 748.25,333.44 748.39,314.43 748.51,303.56 748.60,297.66 748.68,294.73 748.74,293.49 748.77,293.08 748.79,293.00 748.80,293.00 748.80,293.00 748.82,293.01 748.85,293.07 748.89,293.23 748.95,293.62 749.03,294.39 749.12,295.75 749.24,297.99 749.36,301.48 749.51,306.73 749.68,314.44 749.86,325.66 750.07,342.03 750.29,366.25 750.54,401.55 750.80,430.50 751.00,430.50 751.30,401.55 751.59,366.25 751.84,342.03 752.08,325.66 752.29,314.44 752.48,306.73 752.65,301.48 752.80,297.99 752.93,295.75 753.03,294.39 753.12,293.62 753.19,293.23 753.24,293.07 753.28,293.01 753.29,293.00 753.30,293.00 753.30,293.00 753.32,293.03 753.35,293.16 753.40,293.58 753.46,294.54 753.54,296.46 753.63,299.90 753.75,305.65 753.88,314.90 754.03,329.52 754.20,352.68 754.39,389.11 754.60,422.50 754.80,422.50 754.97,371.84 755.12,326.77 755.26,298.94 755.39,280.48 755.52,267.68 755.63,258.63 755.73,252.21 755.82,247.68 755.90,244.55 755.96,242.44 756.02,241.08 756.08,240.25 756.12,239.78 756.15,239.54 756.17,239.44 756.19,239.41 756.20,239.40 756.20,239.40 756.21,239.40 756.25,239.48 756.32,239.86 756.43,241.02 756.57,243.75 756.75,249.22 756.98,259.14 757.24,275.87 757.55,300.89 757.90,319.60 758.21,294.45 758.48,264.79 758.72,246.28 758.91,235.60 759.07,229.79 759.20,226.91 759.29,225.68 759.36,225.28 759.39,225.20 759.40,225.20 759.41,225.20 759.45,225.28 759.51,225.65 759.61,226.79 759.75,229.47 759.92,234.82 760.13,244.49 760.38,260.66 760.67,284.36 761.00,301.50 761.37,282.66 761.70,257.54 761.98,240.77 762.21,230.83 762.41,225.35 762.56,222.62 762.67,221.46 762.75,221.08 762.79,221.00 762.80,221.00 762.82,221.01 762.88,221.17 763.00,222.03 763.17,224.67 763.40,230.83 763.70,242.84 764.07,261.90 764.50,276.00 764.93,260.22 765.28,241.06 765.56,230.42 765.77,225.81 765.90,224.30 765.98,224.01 766.00,224.00 766.02,224.00 766.08,224.10 766.20,224.61 766.37,226.18 766.60,229.84 766.90,237.03 767.27,249.46 767.70,267.08 768.20,278.80 768.90,271.80 769.41,263.98 769.76,260.86 769.95,260.23 770.00,260.20 770.01,260.20 770.05,260.22 770.12,260.30 770.23,260.55 770.37,261.12 770.56,262.26 770.78,264.28 771.05,267.58 771.36,272.68 771.72,280.22 772.12,290.88 772.56,304.93 773.06,320.40 773.60,328.60 774.05,313.32 774.46,290.66 774.81,274.15 775.11,263.63 775.37,257.33 775.58,253.81 775.74,252.05 775.86,251.30 775.94,251.05 775.99,251.00 776.00,251.00 776.01,251.00 776.04,251.04 776.10,251.21 776.20,251.76 776.32,253.04 776.48,255.59 776.67,260.16 776.90,267.82 777.17,280.10 777.47,299.14 777.82,325.98 778.20,345.30 778.57,322.08 778.91,290.57 779.23,267.73 779.51,251.96 779.77,241.04 780.00,233.50 780.21,228.35 780.39,224.92 780.55,222.71 780.68,221.37 780.78,220.61 780.87,220.23 780.93,220.06 780.97,220.01 780.99,220.00 781.00,220.00 781.01,220.00 781.04,220.05 781.11,220.32 781.21,221.12 781.34,223.01 781.50,226.78 781.70,233.61 781.94,245.23 782.22,264.19 782.54,292.63 782.90,314.80 783.26,292.85 783.60,262.01 783.91,239.11 784.19,223.00 784.45,211.63 784.69,203.59 784.90,197.96 785.08,194.07 785.25,191.46 785.39,189.78 785.51,188.75 785.60,188.17 785.68,187.88 785.74,187.75 785.77,187.71 785.79,187.70 785.80,187.70 785.81,187.70 785.84,187.74 785.89,187.91 785.98,188.44 786.09,189.68 786.24,192.15 786.41,196.56 786.62,203.92 786.86,215.61 787.14,233.34 787.45,257.22 787.80,273.20 788.22,258.77 788.59,236.43 788.93,219.42 789.22,208.07 789.47,200.88 789.68,196.56 789.85,194.15 789.99,192.93 790.09,192.40 790.15,192.23 790.19,192.20 790.20,192.20 790.21,192.20 790.23,192.21 790.27,192.26 790.32,192.43 790.40,192.81 790.50,193.57 790.62,194.92 790.77,197.13 790.93,200.58 791.12,205.75 791.34,213.33 791.58,224.32 791.85,240.22 792.14,263.37 792.46,295.68 792.80,320.00 793.22,303.49 793.59,279.66 793.91,262.62 794.19,251.85 794.42,245.43 794.61,241.86 794.76,240.07 794.87,239.30 794.95,239.05 794.99,239.00 795.00,239.00 795.00,239.00 795.01,239.00 795.03,239.02 795.05,239.06 795.09,239.16 795.13,239.35 795.18,239.70 795.24,240.26 795.31,241.12 795.40,242.39 795.49,244.18 795.59,246.67 795.71,250.05 795.83,254.57 795.97,260.58 796.12,268.53 796.28,279.13 796.45,293.45 796.63,313.41 796.82,342.77 797.03,389.95 797.25,445.00 797.95,445.00 798.15,418.14 798.32,387.42 798.47,368.54 798.59,357.72 798.69,351.84 798.77,348.92 798.83,347.68 798.87,347.28 798.89,347.20 798.90,347.20 798.92,347.21 798.97,347.32 799.07,347.89 799.22,349.65 799.42,353.79 799.68,362.09 799.99,377.00 800.37,400.06 800.80,417.50 801.20,402.82 801.55,380.74 801.86,364.50 802.12,354.11 802.35,347.87 802.53,344.39 802.67,342.64 802.78,341.89 802.85,341.65 802.89,341.60 802.90,341.60 802.94,341.65 803.09,342.56 803.36,347.18 803.76,359.58 804.30,372.00 804.79,360.01 805.23,340.79 805.61,325.97 805.94,316.26 806.21,310.37 806.44,307.06 806.62,305.39 806.75,304.68 806.84,304.45 806.89,304.40 806.90,304.40 806.95,304.44 807.13,305.19 807.45,308.99 807.94,318.80 808.60,328.00 809.24,322.90 809.81,313.04 810.31,304.02 810.74,297.49 811.10,293.30 811.40,290.88 811.63,289.64 811.80,289.11 811.92,288.94 811.98,288.90 812.00,288.90 812.02,288.91 812.10,289.04 812.24,289.71 812.46,291.77 812.75,296.45 813.12,305.11 813.57,317.38 814.10,325.20 814.75,319.53 815.34,308.00 815.87,296.71 816.35,287.71 816.77,281.15 817.14,276.63 817.46,273.68 817.73,271.87 817.95,270.84 818.13,270.31 818.25,270.09 818.34,270.01 818.39,270.00 818.40,270.00 818.42,270.00 818.48,270.02 818.59,270.11 818.76,270.41 818.98,271.08 819.27,272.39 819.62,274.65 820.04,278.17 820.52,283.14 821.08,289.29 821.70,295.23 822.40,298.00 823.01,290.87 823.56,276.80 824.07,263.38 824.53,252.79 824.94,245.01 825.30,239.52 825.62,235.80 825.90,233.39 826.13,231.91 826.32,231.08 826.47,230.65 826.58,230.47 826.65,230.41 826.69,230.40 826.70,230.40 826.71,230.40 826.75,230.42 826.81,230.50 826.92,230.75 827.05,231.34 827.23,232.51 827.44,234.58 827.69,237.97 827.99,243.22 828.32,251.02 828.70,262.12 829.12,276.97 829.59,293.70 830.10,302.80 830.62,294.20 831.10,277.94 831.54,263.06 831.93,251.61 832.28,243.33 832.60,237.54 832.87,233.64 833.11,231.12 833.31,229.58 833.47,228.71 833.60,228.26 833.69,228.07 833.76,228.01 833.79,228.00 833.80,228.00 833.80,228.00 833.82,228.00 833.85,228.02 833.90,228.06 833.96,228.16 834.04,228.35 834.13,228.69 834.24,229.25 834.37,230.10 834.52,231.35 834.69,233.13 834.88,235.59 835.09,238.92 835.32,243.38 835.57,249.29 835.83,257.11 836.13,267.47 836.44,281.37 836.77,300.47 837.12,327.67 837.50,367.24 837.90,401.50 838.32,381.90 838.69,354.82 839.03,335.69 839.32,323.36 839.57,315.68 839.78,311.10 839.95,308.55 840.09,307.26 840.19,306.72 840.25,306.54 840.29,306.50 840.30,306.50 840.32,306.50 840.38,306.54 840.50,306.74 840.67,307.17 840.90,307.50 841.51,301.42 842.08,288.73 842.60,275.86 843.08,265.13 843.52,256.80 843.92,250.59 844.28,246.08 844.59,242.91 844.87,240.75 845.10,239.34 845.30,238.48 845.47,238.00 845.60,237.75 845.69,237.64 845.76,237.61 845.79,237.60 845.80,237.60 845.80,237.60 845.82,237.60 845.85,237.62 845.90,237.67 845.96,237.79 846.04,238.03 846.14,238.44 846.25,239.11 846.39,240.15 846.54,241.68 846.72,243.85 846.91,246.86 847.12,250.96 847.36,256.48 847.61,263.86 847.89,273.72 848.19,286.99 848.51,305.16 848.85,330.60 849.21,365.52 849.60,392.00 850.05,353.56 850.47,312.03 850.87,284.23 851.24,264.89 851.59,250.86 851.92,240.43 852.22,232.58 852.50,226.64 852.75,222.16 852.99,218.81 853.20,216.34 853.39,214.56 853.56,213.30 853.70,212.45 853.83,211.89 853.94,211.55 854.02,211.36 854.09,211.26 854.14,211.22 854.18,211.20 854.19,211.20 854.20,211.20 854.21,211.20 854.22,211.20 854.26,211.22 854.31,211.26 854.38,211.36 854.47,211.55 854.58,211.90 854.71,212.45 854.86,213.31 855.03,214.57 855.22,216.37 855.44,218.84 855.68,222.21 855.94,226.71 856.22,232.68 856.53,240.59 856.87,251.11 857.22,265.29 857.60,284.96 858.01,313.57 858.44,357.92 858.90,403.60 859.34,370.65 859.75,331.76 860.14,304.77 860.51,285.76 860.85,271.90 861.17,261.56 861.46,253.76 861.74,247.86 861.99,243.41 862.21,240.08 862.42,237.62 862.61,235.85 862.77,234.59 862.91,233.74 863.04,233.19 863.14,232.85 863.23,232.66 863.29,232.56 863.34,232.52 863.38,232.50 863.39,232.50 863.40,232.50 863.41,232.50 863.43,232.50 863.48,232.52 863.56,232.58 863.66,232.71 863.78,232.97 863.94,233.42 864.12,234.16 864.33,235.30 864.58,236.97 864.85,239.34 865.16,242.60 865.49,247.02 865.86,252.89 866.27,260.57 866.71,270.47 867.18,282.91 867.68,297.63 868.22,312.12 868.80,319.10 869.57,317.24 870.24,313.40 870.81,309.63 871.30,306.83 871.69,305.09 872.01,304.17 872.24,303.76 872.39,303.63 872.48,303.60 872.50,303.60 872.56,303.60 872.77,303.70 873.15,304.16 873.72,305.20 874.50,306.00 875.21,302.83 875.85,296.12 876.42,289.29 876.92,283.84 877.35,280.01 877.71,277.57 878.00,276.16 878.23,275.44 878.41,275.12 878.52,275.02 878.58,275.00 878.60,275.00 878.61,275.00 878.63,275.00 878.68,275.01 878.76,275.05 878.86,275.14 878.98,275.30 879.14,275.60 879.32,276.08 879.54,276.81 879.78,277.89 880.06,279.41 880.37,281.50 880.71,284.30 881.08,288.00 881.48,292.79 881.93,298.93 882.40,306.69 882.91,316.33 883.45,327.95 884.03,340.98 884.65,352.97 885.30,358.40 885.88,352.60 886.42,340.53 886.91,328.33 887.36,318.23 887.77,310.52 888.14,304.87 888.46,300.88 888.74,298.16 888.99,296.40 889.19,295.31 889.36,294.70 889.49,294.39 889.59,294.25 889.65,294.21 889.69,294.20 889.70,294.20 889.71,294.20 889.73,294.20 889.77,294.22 889.84,294.27 889.93,294.38 890.04,294.59 890.17,294.98 890.33,295.60 890.52,296.56 890.74,297.97 890.98,299.97 891.25,302.73 891.55,306.46 891.87,311.42 892.23,317.95 892.61,326.47 893.03,337.48 893.48,351.53 893.95,368.68 894.46,386.52 895.00,395.60 895.58,388.39 896.13,373.34 896.65,357.96 897.14,344.83 897.60,334.23 898.02,325.85 898.42,319.30 898.78,314.22 899.11,310.33 899.42,307.39 899.69,305.20 899.94,303.61 900.16,302.49 900.35,301.72 900.52,301.22 900.66,300.92 900.77,300.74 900.86,300.65 900.93,300.61 900.97,300.60 900.99,300.60 901.00,300.60 901.01,300.60 901.03,300.60 901.08,300.62 901.15,300.66 901.25,300.75 901.37,300.94 901.52,301.28 901.69,301.82 901.90,302.66 902.13,303.89 902.39,305.63 902.69,308.04 903.01,311.30 903.37,315.65 903.76,321.39 904.18,328.95 904.63,338.91 905.12,352.09 905.64,369.79 906.19,393.76 906.78,424.42 907.40,445.00 908.20,410.80 908.95,371.26 909.66,344.06 910.33,324.97 910.95,311.07 911.53,300.71 912.07,292.89 912.57,286.98 913.02,282.52 913.44,279.19 913.82,276.73 914.15,274.95 914.45,273.70 914.71,272.85 914.94,272.29 915.13,271.95 915.29,271.76 915.41,271.66 915.50,271.62 915.56,271.60 915.59,271.60 915.60,271.60 915.61,271.60 915.64,271.60 915.70,271.62 915.80,271.66 915.92,271.76 916.08,271.95 916.28,272.29 916.51,272.84 916.78,273.69 917.08,274.94 917.43,276.71 917.81,279.17 918.24,282.49 918.71,286.94 919.22,292.82 919.77,300.60 920.36,310.90 921.00,324.70 921.68,343.59 922.41,370.29 923.18,408.29 924.00,439.60 924.96,396.62 925.87,353.25 926.73,324.91 927.53,305.36 928.29,291.23 928.99,280.74 929.64,272.85 930.24,266.89 930.79,262.39 931.29,259.03 931.75,256.56 932.15,254.77 932.51,253.51 932.83,252.65 933.10,252.09 933.33,251.75 933.52,251.56 933.67,251.46 933.78,251.42 933.85,251.40 933.89,251.40 933.90,251.40 933.91,251.40 933.95,251.40 934.03,251.42 934.14,251.46 934.29,251.56 934.48,251.75 934.71,252.09 934.99,252.65 935.31,253.50 935.68,254.76 936.10,256.54 936.56,259.01 937.07,262.36 937.64,266.83 938.25,272.77 938.91,280.62 939.63,291.05 940.40,305.06 941.22,324.39 942.09,352.14 943.02,393.51 944.00,431.60 945.28,380.24 946.50,334.08 947.64,304.98 948.71,285.13 949.71,270.85 950.65,260.28 951.52,252.34 952.32,246.35 953.05,241.84 953.72,238.46 954.33,235.98 954.87,234.18 955.35,232.92 955.77,232.06 956.14,231.50 956.44,231.15 956.69,230.96 956.89,230.86 957.04,230.82 957.13,230.80 957.19,230.80 957.20,230.80 957.21,230.80 957.26,230.80 957.36,230.82 957.50,230.86 957.68,230.95 957.92,231.14 958.21,231.47 958.56,232.01 958.96,232.84 959.42,234.06 959.94,235.79 960.52,238.18 961.16,241.42 961.86,245.73 962.63,251.43 963.45,258.90 964.35,268.72 965.30,281.68 966.33,298.95 967.42,321.98 968.57,350.47 969.80,368.60 970.58,364.91 971.21,358.93 971.71,354.80 972.08,352.81 972.33,352.14 972.46,352.01 972.50,352.00" stroke="#000" stroke-width="1.55" fill="none" stroke-linejoin="round" stroke-linecap="butt"/>
</g>
<path d="M78.5 442.5v5.36M301.5 442.5v5.36M525.5 442.5v5.36M748.5 442.5v5.36M972.5 442.5v5.36M78.5 442.5h-5.36M78.5 341.5h-5.36M78.5 240.5h-5.36M78.5 138.5h-5.36M78.5 37.5h-5.36" stroke="#000" stroke-width="1.111" fill="none"/>
<path d="M145.5 442.5v3.2M184.5 442.5v3.2M212.5 442.5v3.2M234.5 442.5v3.2M252.5 442.5v3.2M267.5 442.5v3.2M280.5 442.5v3.2M291.5 442.5v3.2M369.5 442.5v3.2M408.5 442.5v3.2M436.5 442.5v3.2M458.5 442.5v3.2M475.5 442.5v3.2M490.5 442.5v3.2M503.5 442.5v3.2M515.5 442.5v3.2M592.5 442.5v3.2M631.5 442.5v3.2M659.5 442.5v3.2M681.5 442.5v3.2M699.5 442.5v3.2M714.5 442.5v3.2M727.5 442.5v3.2M738.5 442.5v3.2M816.5 442.5v3.2M855.5 442.5v3.2M883.5 442.5v3.2M905.5 442.5v3.2M922.5 442.5v3.2M937.5 442.5v3.2M950.5 442.5v3.2M962.5 442.5v3.2M78.5 411.5h-3.2M78.5 393.5h-3.2M78.5 381.5h-3.2M78.5 371.5h-3.2M78.5 363.5h-3.2M78.5 356.5h-3.2M78.5 350.5h-3.2M78.5 345.5h-3.2M78.5 310.5h-3.2M78.5 292.5h-3.2M78.5 280.5h-3.2M78.5 270.5h-3.2M78.5 262.5h-3.2M78.5 255.5h-3.2M78.5 249.5h-3.2M78.5 244.5h-3.2M78.5 209.5h-3.2M78.5 191.5h-3.2M78.5 179.5h-3.2M78.5 169.5h-3.2M78.5 161.5h-3.2M78.5 154.5h-3.2M78.5 148.5h-3.2M78.5 143.5h-3.2M78.5 108.5h-3.2M78.5 90.5h-3.2M78.5 78.5h-3.2M78.5 68.5h-3.2M78.5 60.5h-3.2M78.5 53.5h-3.2M78.5 47.5h-3.2M78.5 42.5h-3.2" stroke="#000" stroke-width="0.833" fill="none"/>
<rect x="78.5" y="37.5" width="894.0" height="405.0" fill="none" stroke="#000" stroke-width="1.111"/>
<g style="font-family:'DejaVu Sans','Liberation Sans',sans-serif;fill:#000">
<text x="77.27" y="462.00" font-size="13.889" text-anchor="middle">0.01</text>
<text x="302.03" y="462.00" font-size="13.889" text-anchor="middle">0.1</text>
<text x="525.29" y="462.00" font-size="13.889" text-anchor="middle">1</text>
<text x="748.05" y="462.00" font-size="13.889" text-anchor="middle">10</text>
<text x="971.06" y="462.00" font-size="13.889" text-anchor="middle">100</text>
<text x="524.79" y="482" font-size="13.889" text-anchor="middle">Period (days)</text>
<text x="524.79" y="29" font-size="17.3" textLength="480.5" lengthAdjust="spacingAndGlyphs" text-anchor="middle">Generalised Lomb-Scargle periodogram of ASCC 1451303</text>
<text transform="translate(25.97 242.7) rotate(-90)" font-size="13.889" text-anchor="middle">Power</text>
<text font-size="13.889"><tspan x="35.41" y="448.91">1</tspan><tspan x="44.25" y="448.91">0</tspan><tspan x="53.22" y="443.59" font-size="9.722">−</tspan><tspan x="61.36" y="443.59" font-size="9.722">4</tspan></text>
<text font-size="13.889"><tspan x="35.41" y="346.55">1</tspan><tspan x="44.25" y="346.55">0</tspan><tspan x="53.22" y="342.23" font-size="9.722">−</tspan><tspan x="61.36" y="342.23" font-size="9.722">3</tspan></text>
<text font-size="13.889"><tspan x="35.41" y="246.45">1</tspan><tspan x="44.25" y="246.45">0</tspan><tspan x="53.22" y="241.13" font-size="9.722">−</tspan><tspan x="61.36" y="241.13" font-size="9.722">2</tspan></text>
<text font-size="13.889"><tspan x="35.41" y="144.62">1</tspan><tspan x="44.25" y="144.62">0</tspan><tspan x="53.22" y="140.30" font-size="9.722">−</tspan><tspan x="61.36" y="140.30" font-size="9.722">1</tspan></text>
<text font-size="13.889"><tspan x="43.61" y="44.25">1</tspan><tspan x="52.44" y="44.25">0</tspan><tspan x="61.41" y="38.94" font-size="9.722">0</tspan></text>
</g>
</svg>
</body></html>
